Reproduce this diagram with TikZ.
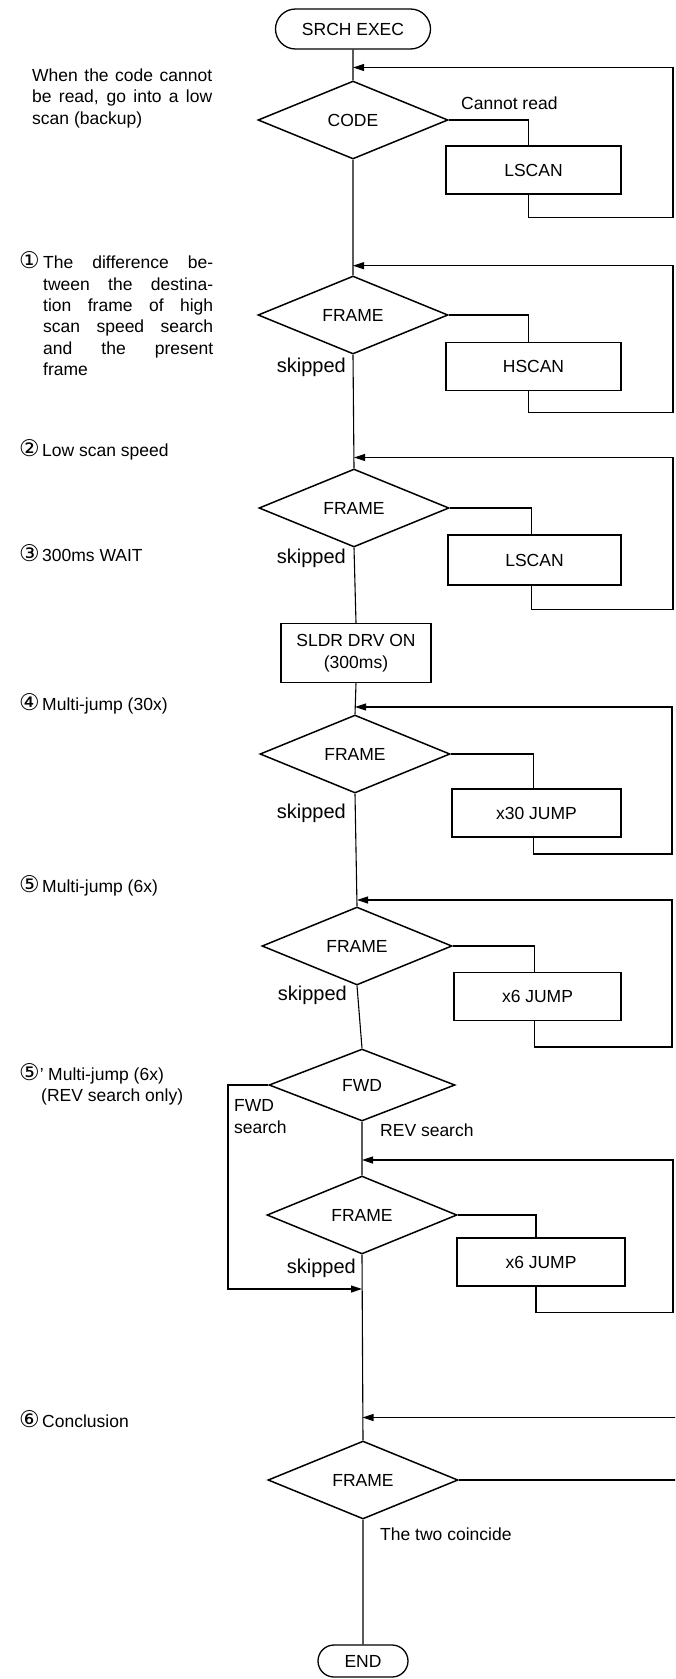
\documentclass[tikz,border=0pt]{standalone}
\usepackage{fontspec}
\setmainfont{Liberation Sans}
\newfontfamily\symfont{DejaVu Sans}
\usetikzlibrary{shapes.geometric,arrows.meta}
\newcommand{\circnum}[1]{{\symfont\fontsize{23}{23}\selectfont #1}}
\begin{document}
\begin{tikzpicture}[x=1pt,y=-1pt,
  every node/.style={font=\fontsize{17.5}{21.4}\selectfont, inner sep=0pt},
  line/.style={line width=1.1pt},
  arr/.style={line width=1.1pt, -{Triangle[length=11pt,width=7pt]}},
  dec/.style={draw, line width=1.5pt, diamond, minimum width=190pt, minimum height=78pt},
  proc/.style={draw, line width=1.5pt, rectangle, minimum width=#1, minimum height=48pt},
  proc/.default=172pt,
  term/.style={draw, line width=1.3pt, rectangle},
  ann/.style={anchor=base west},
  lbl/.style={anchor=base west},
  skp/.style={anchor=base east, font=\fontsize{20}{22}\selectfont},
]
\clip (0,0) rectangle (675,1679);
\fill[white] (0,0) rectangle (675,1679);

% main chain
\node[term, minimum width=155pt, minimum height=40pt, rounded corners=20pt] (srch) at (353,29) {SRCH EXEC};
\node[dec] (code) at (353,120) {CODE};
\node[proc=175pt] (lscan1) at (533.5,170) {LSCAN};
\node[dec] (frame1) at (353,315) {FRAME};
\node[proc=175pt] (hscan) at (533.5,366.5) {HSCAN};
\node[dec] (frame2) at (354,508) {FRAME};
\node[proc=173pt, minimum height=50pt] (lscan2) at (534.5,560) {LSCAN};
\node[proc=150pt, minimum height=59pt, align=center] (sldr) at (356,653) {SLDR DRV ON\\(300ms)};
\node[dec] (frame3) at (355,754) {FRAME};
\node[proc=169pt] (j30) at (536.5,813) {x30 JUMP};
\node[dec] (frame4) at (357,946) {FRAME};
\node[proc=167pt] (j6a) at (537.5,996.5) {x6 JUMP};
\node[dec, minimum height=72pt, minimum width=186pt] (fwd) at (362,1085) {FWD};
\node[dec] (frame5) at (362,1215) {FRAME};
\node[proc=168pt] (j6b) at (541,1262) {x6 JUMP};
\node[dec] (frame6) at (363,1480) {FRAME};
\node[term, minimum width=90pt, minimum height=32pt, rounded corners=16pt] (end) at (363,1661) {END};

% junction coordinates
\coordinate (j1) at (353,67.5);
\coordinate (j2) at (353,265.7);
\coordinate (j3) at (354,457.5);
\coordinate (j4) at (355,707);
\coordinate (j5) at (357,900);
\coordinate (j6) at (362,1160);
\coordinate (jf) at (362,1289);
\coordinate (j7) at (362.5,1417.5);
\coordinate (r1) at (673,217.5);
\coordinate (r2) at (673,412.5);
\coordinate (r3) at (673,609.6);
\coordinate (r4) at (672,854);
\coordinate (r5) at (672,1047);
\coordinate (r6) at (673,1312.5);
\coordinate (r7) at (690,1480);
\coordinate (fl) at (228,1289);

% main line
\draw[line] (srch.south) -- (code.north) (code.south) -- (frame1.north)
  (frame1.south) -- (frame2.north) (frame2.south) -- (sldr.north)
  (sldr.south) -- (frame3.north) (frame3.south) -- (frame4.north)
  (frame4.south) -- (fwd.north) (fwd.south) -- (frame5.north)
  (frame5.south) -- (frame6.north) (frame6.south) -- (end.north);

% loops
\draw[line] (code.east) -| ([xshift=-5pt]lscan1.north);
\draw[arr] ([xshift=-5pt]lscan1.south) |- (r1) |- (j1);
\draw[line] (frame1.east) -| ([xshift=-5pt]hscan.north);
\draw[arr] ([xshift=-5pt]hscan.south) |- (r2) |- (j2);
\draw[line] (frame2.east) -| ([xshift=-3pt]lscan2.north);
\draw[arr] ([xshift=-3pt]lscan2.south) |- (r3) |- (j3);
\draw[line] (frame3.east) -| ([xshift=-3pt]j30.north);
\draw[arr] ([xshift=-3pt]j30.south) |- (r4) |- (j4);
\draw[line] (frame4.east) -| ([xshift=-3pt]j6a.north);
\draw[arr] ([xshift=-3pt]j6a.south) |- (r5) |- (j5);
\draw[line] (frame5.east) -| ([xshift=-5pt]j6b.north);
\draw[arr] ([xshift=-5pt]j6b.south) |- (r6) |- (j6);
\draw[arr] (fwd.west) -| (fl) -- (jf);
\draw[arr] (frame6.east) -- (r7) |- (j7);

% connector labels
\node[lbl] (cr) at (461,109) {Cannot read};
\node[skp] (s1) at (346,372) {skipped};
\node[skp] (s2) at (346,563) {skipped};
\node[skp] (s3) at (346,818) {skipped};
\node[skp] (s4) at (347,1000) {skipped};
\node[skp] (s5) at (356,1273.5) {skipped};
\node[lbl] (fs1) at (234,1111) {FWD};
\node[lbl] (fs2) at (234,1133) {search};
\node[lbl] (rs) at (380,1136) {REV search};
\node[lbl] (tc) at (380,1540) {The two coincide};

% annotations
\node[ann] (a1) at (32,81) {\makebox[180pt][s]{When the code cannot}};
\node[ann] (a2) at (32,102.4) {\makebox[180pt][s]{be read, go into a low}};
\node[ann] (a3) at (32,124) {scan (backup)};

\node[ann] (n1) at (19,268.5) {\circnum{①}};
\node[ann] (b1) at (43,268.5) {\makebox[170pt][s]{The difference be-}};
\node[ann] (b2) at (43,290) {\makebox[170pt][s]{tween the destina-}};
\node[ann] (b3) at (43,311.4) {\makebox[170pt][s]{tion frame of high}};
\node[ann] (b4) at (43,332.8) {\makebox[170pt][s]{scan speed search}};
\node[ann] (b5) at (43,354.2) {\makebox[170pt][s]{and the present}};
\node[ann] (b6) at (43,375.6) {frame};

\node[ann] (n2) at (19,456) {\circnum{②}};
\node[ann] (c1) at (42,456) {Low scan speed};
\node[ann] (n3) at (19,561) {\circnum{③}};
\node[ann] (c2) at (42,561) {300ms WAIT};
\node[ann] (n4) at (19,710) {\circnum{④}};
\node[ann] (c3) at (42,710) {Multi-jump (30x)};
\node[ann] (n5) at (19,892) {\circnum{⑤}};
\node[ann] (c4) at (42,892) {Multi-jump (6x)};
\node[ann] (n6) at (19,1080.6) {\circnum{⑤}'};
\node[ann] (c5) at (48,1080.6) {Multi-jump (6x)};
\node[ann] (c6) at (41,1101) {(REV search only)};
\node[ann] (n7) at (19,1427.7) {\circnum{⑥}};
\node[ann] (c7) at (42,1427.7) {Conclusion};
\end{tikzpicture}
\end{document}
